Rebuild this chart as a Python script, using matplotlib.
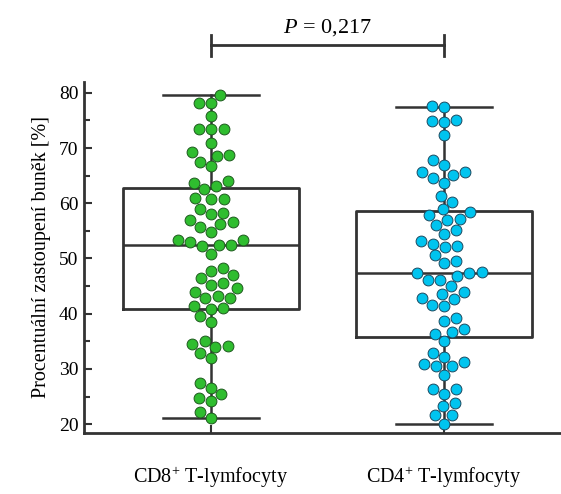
import matplotlib
matplotlib.use("Agg")
import matplotlib.pyplot as plt
import numpy as np
import pandas as pd
import seaborn as sns

plt.rcParams["font.family"] = ["Liberation Serif", "DejaVu Serif"]
plt.rcParams["mathtext.fontset"] = "custom"
plt.rcParams["mathtext.rm"] = "Liberation Serif"
plt.rcParams["mathtext.it"] = "Liberation Serif:italic"

# data
groups = ["CD8$^{+}$ T-lymfocyty", "CD4$^{+}$ T-lymfocyty"]
cd8 = [79.6, 78.1, 78.2, 75.8, 73.4, 73.4, 73.4, 70.9, 68.6, 68.7, 69.2,
       66.7, 67.5, 64.0, 63.7, 63.1, 62.5, 60.7, 60.7, 61.0, 59.0, 58.1,
       58.3, 56.2, 56.6, 57.0, 55.7, 54.8, 52.3, 52.5, 52.5, 52.9, 53.3,
       53.4, 50.8, 48.3, 47.0, 47.8, 46.5, 45.2, 45.6, 44.6, 44.0, 42.8,
       42.8, 43.2, 40.9, 41.0, 41.4, 39.5, 38.5, 34.0, 34.2, 34.5, 35.1,
       32.0, 32.8, 27.5, 26.6, 25.4, 24.8, 24.2, 22.2, 21.1]
cd4 = [77.5, 77.6, 74.7, 74.9, 75.0, 72.3, 67.0, 67.9, 65.2, 65.6, 65.6,
       64.6, 63.7, 61.3, 60.3, 58.9, 58.4, 57.8, 57.1, 56.9, 56.0, 55.1,
       54.4, 53.1, 52.0, 52.3, 52.7, 50.6, 49.1, 49.6, 46.8, 47.3, 47.3,
       47.5, 46.1, 46.1, 45.0, 43.5, 43.9, 42.9, 42.6, 41.4, 41.5, 38.7,
       39.2, 37.3, 36.4, 36.6, 35.0, 32.1, 32.9, 30.5, 30.5, 30.9, 31.2,
       28.9, 25.5, 26.3, 26.3, 23.2, 23.8, 21.6, 21.7, 20.1]
# box statistics (whisker low, q1, median, q3, whisker high)
box_stats = [(21.2, 40.9, 52.5, 62.8, 79.6), (20.1, 35.7, 47.3, 58.6, 77.5)]
p_text = "$P$ = 0,217"

colors = ["#2fbd2f", "#00c4ef"]
edges = ["#1e5a1e", "#1c4a60"]
dark = "#333333"

fig = plt.figure(figsize=(5.61, 4.94), dpi=100)
ax = fig.add_axes([0.150, 0.1235, 0.85, 0.711])

stats = []
for lab, (lo, q1, med, q3, hi) in zip(groups, box_stats):
    stats.append({"label": lab, "whislo": lo, "q1": q1, "med": med,
                  "q3": q3, "whishi": hi, "fliers": []})
ax.bxp(stats, positions=[0, 1], widths=0.755, showfliers=False,
       boxprops=dict(color=dark, linewidth=2.0),
       medianprops=dict(color=dark, linewidth=1.8),
       whiskerprops=dict(color=dark, linewidth=1.8),
       capprops=dict(color=dark, linewidth=1.8),
       capwidths=0.41, manage_ticks=False)

df = pd.DataFrame({
    "grp": [groups[0]] * len(cd8) + [groups[1]] * len(cd4),
    "val": cd8 + cd4,
})
for i, g in enumerate(groups):
    sub = df[df["grp"] == g]
    sns.swarmplot(x=[i] * len(sub), y=sub["val"].values, native_scale=True,
                  ax=ax, color=colors[i], size=7.8, linewidth=0.7,
                  edgecolor=edges[i], zorder=3)

ax.set_xlim(-0.545, 1.502)
ax.set_ylim(18.4, 82)
ax.set_xticks([0, 1])
ax.set_xticklabels(groups, fontsize=14.5)
ax.set_yticks(np.arange(20, 81, 10))
ax.set_yticks(np.arange(25, 80, 10), minor=True)
ax.tick_params(axis="y", which="major", direction="in", length=6, width=1.5,
               labelsize=14, color=dark, pad=4)
ax.tick_params(axis="y", which="minor", direction="in", length=4, width=1.5,
               color=dark)
ax.tick_params(axis="x", direction="in", length=6, width=1.5, color=dark,
               pad=23)
for s in ["top", "right"]:
    ax.spines[s].set_visible(False)
for s in ["left", "bottom"]:
    ax.spines[s].set_linewidth(2.0)
    ax.spines[s].set_color(dark)
ax.set_ylabel("Procentuální zastoupení buněk [%]", fontsize=14.5, labelpad=6)
ax.set_xlabel("")

# significance bracket
by, cap = 88.6, 1.9
ax.plot([0, 1], [by, by], color=dark, lw=2.0, clip_on=False)
ax.plot([0, 0], [by - cap, by + cap], color=dark, lw=2.0, clip_on=False)
ax.plot([1, 1], [by - cap, by + cap], color=dark, lw=2.0, clip_on=False)
ax.text(0.5, by + 1.4, p_text, ha="center", va="bottom", fontsize=16,
        clip_on=False)

fig.savefig("out.png", dpi=100, facecolor="white")
